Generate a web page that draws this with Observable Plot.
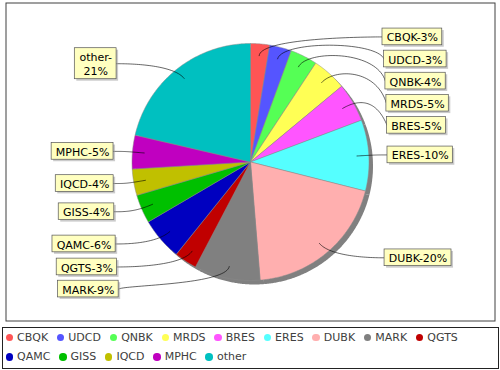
<!DOCTYPE html>
<html>
<head>
<meta charset="utf-8">
<script src="https://cdn.jsdelivr.net/npm/d3@7"></script>
<script src="https://cdn.jsdelivr.net/npm/@observablehq/plot@0.6"></script>
<style>
  html, body { margin: 0; padding: 0; background: #fff; }
  #chart { position: relative; width: 500px; height: 370px; overflow: hidden; font-family: "DejaVu Sans", sans-serif; }
  #chart svg { display: block; }
  #legend { position: absolute; left: 2px; top: 327px; width: 497px; height: 42px; box-sizing: border-box;
            border: 1px solid #222; padding: 0 0 0 2.5px; display: flex; flex-wrap: wrap; align-content: flex-start;
            font-size: 11px; color: #404040; font-family: "DejaVu Sans", sans-serif; }
  #legend .item { display: flex; align-items: center; height: 19.2px; margin-right: 8.7px; white-space: nowrap; }
  #legend .sw { width: 7.5px; height: 7.5px; border-radius: 50%; margin-right: 4px; flex: none; }
</style>
</head>
<body>
<div id="chart"></div>
<script>
// ---- data ----
const names = ["CBQK", "UDCD", "QNBK", "MRDS", "BRES", "ERES", "DUBK", "MARK", "QGTS", "QAMC", "GISS", "IQCD", "MPHC", "other"];
const values = [2.6, 3.0, 3.7, 4.7, 5.3, 9.7, 19.8, 9.0, 3.1, 5.8, 3.9, 3.6, 4.6, 21.4];
const labelTexts = ["CBQK-3%", "UDCD-3%", "QNBK-4%", "MRDS-5%", "BRES-5%", "ERES-10%", "DUBK-20%", "MARK-9%", "QGTS-3%", "QAMC-6%", "GISS-4%", "IQCD-4%", "MPHC-5%", "other-\n21%"];
const colors = ["#FF5555", "#5555FF", "#55FF55", "#FFFF55", "#FF55FF", "#55FFFF", "#FFAFAF", "#808080", "#C00000", "#0000C0", "#00C000", "#C0C000", "#C000C0", "#00C0C0"];

// ---- layout ----
const W = 500, H = 325;
const M = {top: 2, right: 5, bottom: 4, left: 5};
const CX = 250, CY = 161.5, R = 118.5;      // pie centre & radius (px)
const LINK_IN = 0.9;                         // link end inside slice (fraction of r)
const LINK_OUT = 125.5;                      // elbow radius (px)
const FONT = "DejaVu Sans", FS = 11, LINE_H = 14.3, GAP = 5.4;

// ---- geometry from the data ----
const arcs = d3.pie().sort(null).value(d => d)(values);
const toU = (px, py) => ({x: (px - CX) / R, y: (CY - py) / R});

const slicePts = [];
arcs.forEach((p, i) => {
  const n = Math.max(2, Math.ceil((p.endAngle - p.startAngle) / (Math.PI / 360)));
  slicePts.push({name: names[i], x: 0, y: 0});
  for (let k = 0; k <= n; k++) {
    const a = p.startAngle + (p.endAngle - p.startAngle) * k / n;
    slicePts.push({name: names[i], x: Math.sin(a), y: Math.cos(a)});
  }
  slicePts.push({name: names[i], x: 0, y: 0});
});

const ctx = document.createElement("canvas").getContext("2d");
ctx.font = `${FS}px "${FONT}"`;

const labels = arcs.map((p, i) => {
  const mid = (p.startAngle + p.endAngle) / 2;
  const lines = labelTexts[i].split("\n");
  const tw = d3.max(lines, s => ctx.measureText(s).width);
  const pad = lines.length > 1 ? 4.6 : 4.2;
  return {
    name: names[i], text: labelTexts[i], mid, right: mid < Math.PI,
    w: tw + 2 * pad, h: lines.length * LINE_H + 2.4,
    ideal: CY - Math.cos(mid) * LINK_OUT
  };
});

for (const side of [true, false]) {
  const ls = labels.filter(l => l.right === side).sort((a, b) => a.ideal - b.ideal);
  ls.forEach(l => l.py = l.ideal);
  for (let i = 1; i < ls.length; i++) {
    const minD = (ls[i - 1].h + ls[i].h) / 2 + GAP;
    if (ls[i].py - ls[i - 1].py < minD) ls[i].py = ls[i - 1].py + minD;
  }
}

const linkPts = [];
labels.forEach(l => {
  const d = Math.abs(l.py - CY);
  const off = 137 - 5 * (d / 125) ** 2;
  let x1, x2, edge;
  if (l.right) { edge = CX + off; x1 = edge; x2 = edge + l.w; }
  else { edge = CX - off; x2 = edge; x1 = edge - l.w; }
  const a = toU(x1, l.py - l.h / 2), b = toU(x2, l.py + l.h / 2), c = toU((x1 + x2) / 2, l.py);
  Object.assign(l, {ux1: a.x, ux2: b.x, uy1: a.y, uy2: b.y, tx: c.x, ty: c.y});
  // cubic link: label edge -> anchor -> elbow -> point inside slice
  const s = Math.sin(l.mid), co = Math.cos(l.mid);
  const P0 = [edge, l.py];
  const elbow = [CX + s * LINK_OUT, CY - co * LINK_OUT];
  const P1 = [CX + (l.right ? 1 : -1) * LINK_OUT, elbow[1]];
  const P2 = elbow;
  const P3 = [CX + s * R * LINK_IN, CY - co * R * LINK_IN];
  for (let k = 0; k <= 40; k++) {
    const t = k / 40, u = 1 - t;
    const px = u*u*u*P0[0] + 3*u*u*t*P1[0] + 3*u*t*t*P2[0] + t*t*t*P3[0];
    const py = u*u*u*P0[1] + 3*u*u*t*P1[1] + 3*u*t*t*P2[1] + t*t*t*P3[1];
    const q = toU(px, py);
    linkPts.push({name: l.name, x: q.x, y: q.y});
  }
});

const plot = Plot.plot({
  width: W, height: H,
  marginTop: M.top, marginRight: M.right, marginBottom: M.bottom, marginLeft: M.left,
  x: {domain: [(M.left - CX) / R, (W - M.right - CX) / R], axis: null},
  y: {domain: [(CY - (H - M.bottom)) / R, (CY - M.top) / R], axis: null},
  color: {domain: names, range: colors},
  style: {fontFamily: FONT, background: "white", overflow: "visible"},
  marks: [
    Plot.line(slicePts, {x: "x", y: "y", z: "name", fill: "#808080", stroke: "none", dx: 4, dy: 4}),
    Plot.line(slicePts, {x: "x", y: "y", z: "name", fill: "name", stroke: "#8a8a8a", strokeWidth: 0.5, strokeLinejoin: "round"}),
    Plot.line(linkPts, {x: "x", y: "y", z: "name", stroke: "black", strokeWidth: 0.6}),
    Plot.rect(labels, {x1: "ux1", x2: "ux2", y1: "uy1", y2: "uy2", fill: "rgba(151,151,151,0.5)", dx: 2, dy: 2}),
    Plot.rect(labels, {x1: "ux1", x2: "ux2", y1: "uy1", y2: "uy2", fill: "#FFFFC0", stroke: "#555", strokeWidth: 0.7}),
    Plot.text(labels, {x: "tx", y: "ty", text: "text", fontSize: FS, lineHeight: LINE_H / FS, fill: "black"}),
    Plot.frame({stroke: "#404040", inset: 0.5})
  ]
});

const chart = document.getElementById("chart");
chart.appendChild(plot);

const color = plot.scale("color");
const legend = document.createElement("div");
legend.id = "legend";
names.forEach(n => {
  const item = document.createElement("div");
  item.className = "item";
  const sw = document.createElement("span");
  sw.className = "sw";
  sw.style.background = color.apply(n);
  const tx = document.createElement("span");
  tx.textContent = n;
  item.appendChild(sw);
  item.appendChild(tx);
  legend.appendChild(item);
});
chart.appendChild(legend);
</script>
</body>
</html>
